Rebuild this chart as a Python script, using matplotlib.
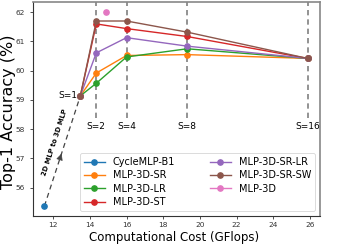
import matplotlib
matplotlib.use("Agg")
import matplotlib.pyplot as plt

# ---- data ----
stage_labels = ["S=2", "S=4", "S=8", "S=16"]
stage_x = [14.35, 16.0, 19.3, 25.88]
base_x, base_y = 13.48, 59.14         # S=1 (shared start)
cycle_x, cycle_y = 11.52, 55.37       # CycleMLP-B1
mlp3d_x, mlp3d_y = 14.89, 62.02       # MLP-3D

sr    = [59.92, 60.52, 60.55, 60.42]
lr    = [59.57, 60.47, 60.75, 60.42]
st    = [61.60, 61.44, 61.17, 60.42]
sr_lr = [60.61, 61.13, 60.84, 60.42]
sr_sw = [61.70, 61.70, 61.32, 60.42]

series = [
    ("MLP-3D-SR", sr, "C1"),
    ("MLP-3D-LR", lr, "C2"),
    ("MLP-3D-ST", st, "C3"),
    ("MLP-3D-SR-LR", sr_lr, "C4"),
    ("MLP-3D-SR-SW", sr_sw, "C5"),
]

MS = 3.8
LW = 1.0

fig = plt.figure(figsize=(3.43, 2.44), dpi=100)
ax = fig.add_axes([0.0953, 0.1148, 0.8376, 0.8758])

ylim = (55.03, 62.34)
ax.set_xlim(10.88, 26.55)
ax.set_ylim(*ylim)

# vertical dashed guides
ax.vlines(stage_x, 58.38, ylim[1], colors="#808080", linestyles=(0, (3.2, 2.4)),
          linewidth=1.2, zorder=1)

# 2D -> 3D dashed line with arrow
ax.plot([cycle_x, base_x], [cycle_y, base_y], color="#444444",
        linestyle=(0, (4, 3)), linewidth=0.9, zorder=2)
mx = cycle_x + 0.5 * (base_x - cycle_x)
my = cycle_y + 0.5 * (base_y - cycle_y)
ax.annotate("", xy=(mx, my),
            xytext=(mx - 0.06 * (base_x - cycle_x), my - 0.06 * (base_y - cycle_y)),
            arrowprops=dict(arrowstyle="-|>", color="#444444", lw=0.5,
                            mutation_scale=10), zorder=2)
ax.text(12.1, 57.56, "2D MLP to 3D MLP", rotation=72, fontsize=4.9,
        fontweight="bold", ha="center", va="center", rotation_mode="anchor")

# series
ax.plot([cycle_x], [cycle_y], "-o", color="C0", markersize=MS,
        linewidth=LW, label="CycleMLP-B1", zorder=3)
for name, vals, col in series:
    ax.plot([base_x] + stage_x, [base_y] + vals, "-o", color=col,
            markersize=MS, linewidth=LW, label=name, zorder=3)
ax.plot([mlp3d_x], [mlp3d_y], "-o", color="C6", markersize=MS,
        linewidth=LW, label="MLP-3D", zorder=3)

# stage labels
ax.text(12.79, 59.14, "S=1", fontsize=6.5, ha="center", va="center")
for sx, lab in zip(stage_x, stage_labels):
    ax.text(sx, 58.08, lab, fontsize=6.5, ha="center", va="center")

ax.set_xticks([12, 14, 16, 18, 20, 22, 24, 26])
ax.set_yticks([56, 57, 58, 59, 60, 61, 62])
ax.tick_params(labelsize=5.3, length=2.2, width=0.6, colors="#333333")
ax.tick_params(axis="x", pad=2.2)
ax.tick_params(axis="y", pad=3.5)

for side in ("left", "bottom"):
    ax.spines[side].set_color("#333333")
    ax.spines[side].set_linewidth(0.8)
for side in ("top", "right"):
    ax.spines[side].set_color("#888888")
    ax.spines[side].set_linewidth(1.2)

ax.set_xlabel("Computational Cost (GFlops)", fontsize=8.5)
ax.xaxis.label.set_va("center")
ax.xaxis.set_label_coords(0.492, -0.103)
ax.set_ylabel("Top-1 Accuracy (%)", fontsize=11.5)
ax.yaxis.label.set_va("center")
ax.yaxis.set_label_coords(-0.085, 0.49)

leg = ax.legend(loc="lower right", ncol=2, fontsize=7, frameon=True,
                borderaxespad=0.5, handlelength=2.1, handletextpad=0.85,
                columnspacing=3.6, labelspacing=0.35)
leg.get_frame().set_edgecolor("#cccccc")
leg.get_frame().set_linewidth(0.6)

fig.savefig("out.png", dpi=100)
